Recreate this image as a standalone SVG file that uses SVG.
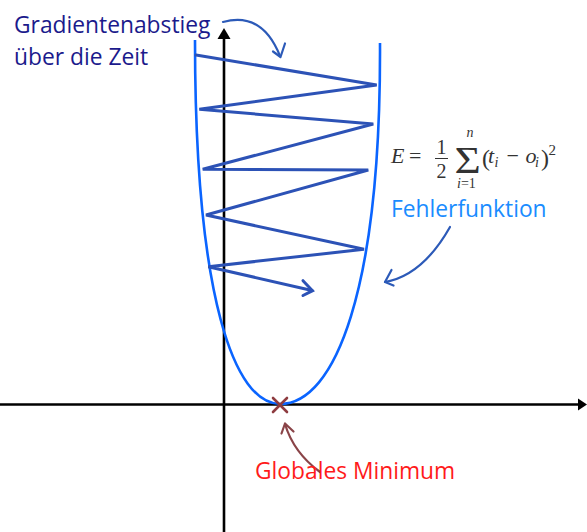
<svg xmlns="http://www.w3.org/2000/svg" width="587" height="532" viewBox="0 0 587 532">
<style>
.lbl{font-family:"Open Sans","Noto Sans","Liberation Sans",sans-serif;font-size:22.8px}
.m{font-family:"Liberation Serif","DejaVu Serif",serif;fill:#333}
.it{font-style:italic}
.zz{fill:none;stroke:#2c52b6;stroke-width:3;stroke-linejoin:miter;stroke-linecap:round}
.ann{fill:none;stroke-width:2.2;stroke-linecap:round;stroke-linejoin:round}
</style>
<rect width="587" height="532" fill="#fff"/>
<g id="axes">
<line x1="0" y1="404.5" x2="582" y2="404.5" stroke="#000" stroke-width="2.6"/>
<polygon points="587,404.5 578,398.5 578,410.5" fill="#000"/>
<line x1="224" y1="36" x2="224" y2="532" stroke="#000" stroke-width="2.6"/>
<polygon points="224,28 217.5,39 230.5,39" fill="#000"/>
</g>
<g id="error-curve">
<path d="M195,40 C195,300 235,404 280,404 C335,404 381,290 380,43" fill="none" stroke="#0a64ff" stroke-width="2.6"/>
</g>
<g id="minimum-marker">
<path d="M273,398 L287,412 M287,398 L273,412" stroke="#8e3c40" stroke-width="2.6" stroke-linecap="round"/>
</g>
<g id="connectors">
<polyline class="zz" points="196,55 376.7,85 199.3,109.3 373.3,124 202.7,169.3 368.3,170 206,215 364,249.3 208.3,266.7 312,290.5"/>
<polyline class="zz" points="303,280.7 312.5,290.7 303,295.5"/>
<path class="ann" stroke="#2c5ab8" d="M223,22 Q262,11 280,56"/>
<polyline class="ann" stroke="#2c5ab8" points="273,51.5 280.5,57 285,43.5"/>
<path class="ann" stroke="#2c5ab8" d="M450,227 Q422.5,275.5 385,282"/>
<polyline class="ann" stroke="#2c5ab8" points="391.5,270 385,282 393.5,285.5"/>
<path class="ann" stroke="#8a4448" stroke-width="2.6" d="M320,472 Q293.5,452.5 285,424"/>
<polyline class="ann" stroke="#8a4448" stroke-width="2.6" points="281.5,433.5 285,423.5 293.5,431.5"/>
</g>
<g id="label-gradient">
<text class="lbl" x="14" y="32.5" fill="#1b1a8c">Gradientenabstieg</text>
<text class="lbl" x="14" y="65" fill="#1b1a8c">über die Zeit</text>
</g>
<g id="label-error">
<text class="lbl" x="391" y="216.5" fill="#1a8cff">Fehlerfunktion</text>
</g>
<g id="label-minimum">
<text class="lbl" x="255" y="479" fill="#ff1a1a">Globales Minimum</text>
</g>
<g id="formula">
<text class="m it" x="391" y="163" font-size="22">E</text>
<text class="m" x="409" y="163" font-size="22">=</text>
<text class="m" x="436.5" y="154" font-size="20">1</text>
<line x1="435" y1="158.5" x2="448" y2="158.5" stroke="#333" stroke-width="1"/>
<text class="m" x="436.5" y="178" font-size="20">2</text>
<text class="m" x="0" y="0" font-size="37" transform="translate(454.5,173) scale(1.22,1)">Σ</text>
<text class="m it" x="466.5" y="136.5" font-size="14">n</text>
<text class="m" x="457" y="187.5" font-size="14"><tspan class="it">i</tspan>=1</text>
<text class="m" font-size="22"><tspan x="482" y="166" font-size="24">(</tspan><tspan class="it" x="488" y="163">t</tspan><tspan class="it" x="494.5" y="166.5" font-size="14">i</tspan><tspan x="506.5" y="163">−</tspan><tspan class="it" x="525.5" y="163">o</tspan><tspan class="it" x="535" y="166.5" font-size="14">i</tspan><tspan x="541" y="166" font-size="24">)</tspan><tspan x="548.5" y="155" font-size="15">2</tspan></text>
</g>
</svg>
